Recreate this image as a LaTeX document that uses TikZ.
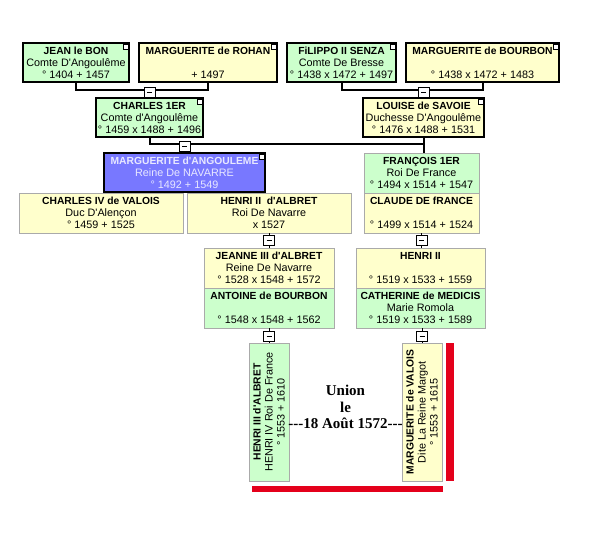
\documentclass[tikz,border=0pt]{standalone}
\usepackage{fontspec}
\setmainfont{Liberation Sans}
\newfontfamily\unionfont{Liberation Serif}
\usetikzlibrary{positioning,calc}
\definecolor{boxgreen}{RGB}{204,255,204}
\definecolor{boxyellow}{RGB}{255,255,204}
\definecolor{boxblue}{RGB}{120,120,255}
\definecolor{paleblue}{RGB}{232,232,255}
\definecolor{thingray}{RGB}{170,170,170}
\definecolor{barred}{RGB}{228,0,27}
\newcommand{\ap}{\textquotesingle}
\newcommand{\nm}[1]{{\fontsize{10.3}{12}\selectfont\bfseries #1}}

\begin{document}
\begin{tikzpicture}[x=1pt,y=-1pt,
  every node/.style={font=\fontsize{10.8}{12}\selectfont, inner sep=0pt, outer sep=0pt, align=center},
  person/.style={rectangle, anchor=north west, minimum height=39pt},
  strong/.style={person, draw=black, line width=2.4pt},
  light/.style={person, draw=thingray, line width=1pt, minimum height=40pt},
  upright/.style={light, anchor=center, rotate=90, minimum width=138pt, minimum height=40pt},
  corner/.style={draw=black, fill=white, line width=0.6pt, minimum size=5pt, anchor=north east},
  minus/.style={draw=black, fill=white, line width=0.8pt, minimum width=11pt, minimum height=10pt,
    path picture={\draw[line width=0.8pt] ([xshift=3pt]path picture bounding box.west) -- ([xshift=-3pt]path picture bounding box.east);}},
  link/.style={line width=2pt},
  thinlink/.style={line width=0.8pt},
  union/.style={font=\unionfont\bfseries\fontsize{15}{16.5}\selectfont}
]
  \useasboundingbox (0,0) rectangle (590,538);

  % grandparents
  \node[strong, fill=boxgreen, minimum width=106pt]  (jean)    at (23,43)  {\nm{JEAN le BON}\\Comte D\ap Angoulême\\° 1404 + 1457};
  \node[strong, fill=boxyellow, minimum width=138pt] (rohan)   at (139,43) {\nm{MARGUERITE de ROHAN}\\\mbox{}\\+ 1497};
  \node[strong, fill=boxgreen, minimum width=109pt]  (filippo) at (287,43) {\nm{FiLIPPO II SENZA}\\Comte De Bresse\\° 1438 x 1472 + 1497};
  \node[strong, fill=boxyellow, minimum width=153pt] (bourbon) at (406,43) {\nm{MARGUERITE de BOURBON}\\\mbox{}\\° 1438 x 1472 + 1483};

  % parents
  \node[strong, fill=boxgreen, minimum width=107pt]  (charles) at (96,98)  {\nm{CHARLES 1ER}\\Comte d\ap Angoulême\\° 1459 x 1488 + 1496};
  \node[strong, fill=boxyellow, minimum width=121pt] (louise)  at (363,98) {\nm{LOUISE de SAVOIE}\\Duchesse D\ap Angoulême\\° 1476 x 1488 + 1531};

  % children
  \node[strong, fill=boxblue, text=paleblue, minimum width=161pt] (marg) at (104,153) {\nm{MARGUERITE d\ap ANGOULEME}\\Reine De NAVARRE\\° 1492 + 1549};
  \node[light, fill=boxyellow, minimum width=164pt] (charlesiv) at (19,193)  {\nm{CHARLES IV de VALOIS}\\Duc D\ap Alençon\\° 1459 + 1525};
  \node[light, fill=boxyellow, minimum width=164pt] (henrialb)  at (187,193) {\nm{HENRI II\ \ d\ap ALBRET}\\Roi De Navarre\\x 1527};
  \node[light, fill=boxgreen, minimum width=115pt]  (francois)  at (364,153) {\nm{FRANÇOIS 1ER}\\Roi De France\\° 1494 x 1514 + 1547};
  \node[light, fill=boxyellow, minimum width=115pt] (claude)    at (364,193) {\nm{CLAUDE DE fRANCE}\\\mbox{}\\° 1499 x 1514 + 1524};

  % grandchildren
  \node[light, fill=boxyellow, minimum width=130pt] (jeanne)    at (204,248) {\nm{JEANNE III d\ap ALBRET}\\Reine De Navarre\\° 1528 x 1548 + 1572};
  \node[light, fill=boxgreen, minimum width=130pt]  (antoine)   at (204,288) {\nm{ANTOINE de BOURBON}\\\mbox{}\\° 1548 x 1548 + 1562};
  \node[light, fill=boxyellow, minimum width=129pt] (henri2)    at (356,248) {\nm{HENRI II}\\\mbox{}\\° 1519 x 1533 + 1559};
  \node[light, fill=boxgreen, minimum width=129pt]  (catherine) at (356,288) {\nm{CATHERINE de MEDICIS}\\Marie Romola\\° 1519 x 1533 + 1589};

  % the couple
  \node[upright, fill=boxgreen]  (henri3) at (269,412) {\nm{HENRI III d\ap ALBRET}\\HENRI IV Roi De France\\° 1553 + 1610};
  \node[upright, fill=boxyellow] (margv)  at (422,412) {\nm{MARGUERITE de VALOIS}\\Dite La Reine Margot\\° 1553 + 1615};

  \foreach \n in {jean,rohan,filippo,bourbon,charles,louise,marg}
    \node[corner] at ([xshift=-1.2pt,yshift=-1.2pt]\n.north east) {};

  % links
  \draw[link] (jean.south) -- ++(0,8) -| (rohan.south);
  \node[minus, above=1pt of charles] (mjean) {};
  \draw[link] (mjean) -- (charles);

  \draw[link] (filippo.south) -- ++(0,8) -| (bourbon.south);
  \node[minus, above=1pt of louise] (mfilippo) {};
  \draw[link] (mfilippo) -- (louise);

  \draw[link] (charles.south) -- ++(0,7) -| (louise.south);
  \draw[link] (louise.south) -- (louise.south |- francois.north);
  \node[minus, above=2pt of marg] (mcharles) {};
  \draw[link] (mcharles) -- (marg);
  \draw[thinlink] (marg.south) -- (marg.south |- henrialb.north);

  \node[minus, below=2pt of henrialb] (mhenri) {};
  \draw[thinlink] (henrialb) -- (mhenri) -- (jeanne);
  \node[minus, below=2pt of claude] (mclaude) {};
  \draw[thinlink] (claude) -- (mclaude) -- (mclaude |- henri2.north);

  \node[minus, below=3pt of antoine] (mantoine) {};
  \draw[thinlink] (antoine) -- (mantoine) -- (mantoine |- henri3.east);
  \node[minus, anchor=south] (mcath) at ([yshift=2pt]margv.east) {};
  \draw[thinlink] (mcath |- catherine.south) -- (mcath) -- (margv.east);

  \node[union] (wedding) at ($(henri3.south)!0.5!(margv.north)+(0,-5)$)
    {Union\\le\\-\kern0pt-\kern0pt-18 Août 1572-\kern0pt-\kern0pt-};

  % red bars
  \fill[barred] (446,343) rectangle (454,481);
  \fill[barred] (252,486) rectangle (443,492);
\end{tikzpicture}
\end{document}
